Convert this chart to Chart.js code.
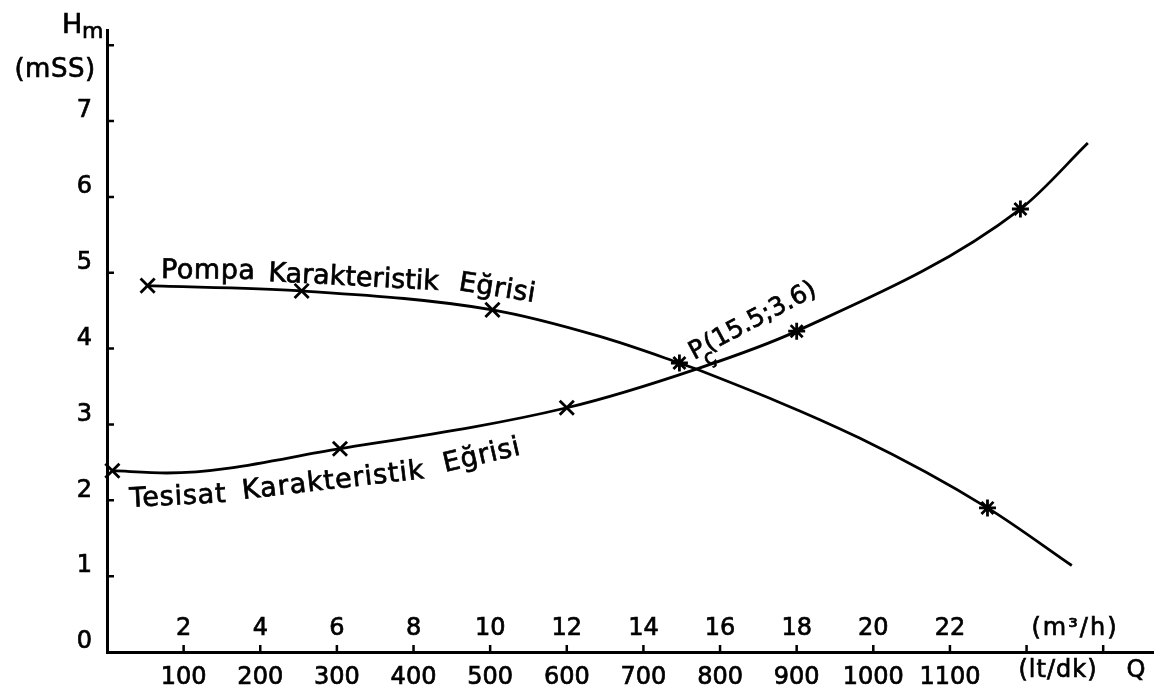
<!DOCTYPE html>
<html>
<head>
  <meta charset="UTF-8" />
  <title>Pompa ve Tesisat Karakteristik Eğrileri</title>
  <script src="https://cdn.jsdelivr.net/npm/chart.js"></script>
  <style>
    html, body { margin: 0; padding: 0; background: #fff; }
    #wrap { width: 1164px; height: 695px; }
  </style>
</head>
<body>
  <div id="wrap"><canvas id="chart"></canvas></div>

  <script>
    // Q in lt/dk, Hm in mSS
    const pompaQ = [53, 254, 503, 643, 747, 769, 982, 1149, 1259];
    const pompaH = [4.83, 4.76, 4.51, 4.16, 3.81, 3.73, 2.82, 1.90, 1.14];
    const pompaMarks = ['crossRot', 'crossRot', 'crossRot', '', 'star', '', '', 'star', ''];

    const tesisatQ = [7, 78, 304, 600, 769, 900, 1192, 1280];
    const tesisatH = [2.39, 2.36, 2.68, 3.22, 3.73, 4.23, 5.84, 6.71];
    const tesisatMarks = ['crossRot', '', 'crossRot', 'crossRot', '', 'star', 'star', ''];

    const ltdkTicks = [100, 200, 300, 400, 500, 600, 700, 800, 900, 1000, 1100];
    const m3hTicks = [2, 4, 6, 8, 10, 12, 14, 16, 18, 20, 22];

    const FONT = '"DejaVu Sans", sans-serif';

    function toPoints(qs, hs) {
      return qs.map((q, i) => ({ x: q, y: hs[i] }));
    }

    function curve(qs, hs, marks) {
      return {
        data: toPoints(qs, hs),
        borderColor: '#000',
        borderWidth: 2.8,
        cubicInterpolationMode: 'monotone',
        pointStyle: marks.map(m => m || 'circle'),
        pointRadius: marks.map(m => m === 'star' ? 8.5 : (m ? 10 : 0)),
        pointBorderWidth: 2.8,
        pointBorderColor: '#000',
        pointBackgroundColor: '#000',
        clip: false
      };
    }

    function text(ctx, str, x, y, deg, size, opts) {
      opts = opts || {};
      ctx.save();
      ctx.translate(x, y);
      ctx.rotate(deg * Math.PI / 180);
      ctx.font = size + 'px ' + FONT;
      ctx.letterSpacing = (opts.spacing || 0) + 'px';
      ctx.textAlign = opts.align || 'left';
      ctx.textBaseline = opts.baseline || 'alphabetic';
      ctx.fillStyle = '#000';
      ctx.strokeStyle = '#000';
      ctx.lineWidth = 0.7;
      ctx.fillText(str, 0, 0);
      ctx.strokeText(str, 0, 0);
      ctx.restore();
    }

    // inward tick marks, second label row and the hand written notes
    const annotations = {
      id: 'annotations',
      afterDraw(chart) {
        const { ctx, scales: { x, y } } = chart;
        const x0 = x.getPixelForValue(0);
        const y0 = y.getPixelForValue(0);

        ctx.save();
        ctx.strokeStyle = '#000';
        ctx.lineWidth = 2.5;
        ctx.beginPath();
        x.ticks.forEach(t => {
          if (t.value <= 0) return;
          const px = x.getPixelForValue(t.value);
          ctx.moveTo(px, y0);
          ctx.lineTo(px, y0 - 7);
        });
        y.ticks.forEach(t => {
          if (t.value <= 0) return;
          const py = y.getPixelForValue(t.value);
          ctx.moveTo(x0, py);
          ctx.lineTo(x0 + 7, py);
        });
        ctx.stroke();
        ctx.restore();

        // m3/h row above the axis
        ltdkTicks.forEach((q, i) => {
          text(ctx, String(m3hTicks[i]), x.getPixelForValue(q), y0 - 17, 0, 24, { align: 'center' });
        });
        text(ctx, '(m³/h)', 1075, y0 - 17, 0, 24, { align: 'center', spacing: 2 });
        text(ctx, '(lt/dk)', 1058, 677, 0, 24, { align: 'center', spacing: 1 });
        text(ctx, 'Q', 1136, 677, 0, 24, { align: 'center' });

        // y axis title
        text(ctx, 'H', 62, 33, 0, 27);
        text(ctx, 'm', 82, 38, 0, 22);
        text(ctx, '(mSS)', 55, 77, 0, 26, { align: 'center', spacing: 0.5 });

        // curve names
        text(ctx, 'Pompa', 161, 278, 0.5, 27, { spacing: 0.5 });
        text(ctx, 'Karakteristik', 268, 281, 3, 27, { spacing: 0 });
        text(ctx, 'Eğrisi', 458, 290, 9, 27, { spacing: 0.5 });

        text(ctx, 'Tesisat', 130, 507, -3, 27, { spacing: 0.8 });
        text(ctx, 'Karakteristik', 243, 499, -6.5, 27, { spacing: 1 });
        text(ctx, 'Eğrisi', 445, 472, -13, 27, { spacing: 0.8 });

        // operating point
        ctx.save();
        ctx.translate(694, 360);
        ctx.rotate(-28 * Math.PI / 180);
        text(ctx, 'P', 0, 0, 0, 25);
        text(ctx, 'ç', 9, 12, 0, 21);
        text(ctx, '(15.5;3.6)', 17, 0, 0, 25);
        ctx.restore();
      }
    };

    const tickFont = { family: FONT, size: 24 };

    new Chart(document.getElementById('chart'), {
      type: 'line',
      data: {
        datasets: [
          curve(pompaQ, pompaH, pompaMarks),
          curve(tesisatQ, tesisatH, tesisatMarks)
        ]
      },
      options: {
        responsive: true,
        maintainAspectRatio: false,
        animation: false,
        layout: { autoPadding: false, padding: { left: 0, right: 11, top: 30, bottom: 0 } },
        plugins: { legend: { display: false }, tooltip: { enabled: false } },
        scales: {
          x: {
            type: 'linear',
            min: 0,
            max: 1365,
            afterFit(scale) { scale.height = 43; },
            border: { display: true, color: '#000', width: 3 },
            grid: { display: false },
            ticks: {
              stepSize: 100,
              includeBounds: false,
              autoSkip: false,
              maxRotation: 0,
              padding: 3,
              color: '#000',
              textStrokeColor: '#000',
              textStrokeWidth: 0.7,
              font: tickFont,
              callback: v => ltdkTicks.includes(v) ? String(v) : ''
            }
          },
          y: {
            min: 0,
            max: 8.2,
            afterFit(scale) { scale.width = 107; },
            border: { display: true, color: '#000', width: 3 },
            grid: { display: false },
            ticks: {
              stepSize: 1,
              includeBounds: false,
              padding: 7,
              labelOffset: -10,
              color: '#000',
              textStrokeColor: '#000',
              textStrokeWidth: 0.7,
              font: tickFont,
              callback: v => v <= 7 ? String(v) : ''
            }
          }
        }
      },
      plugins: [annotations]
    });
  </script>
</body>
</html>
